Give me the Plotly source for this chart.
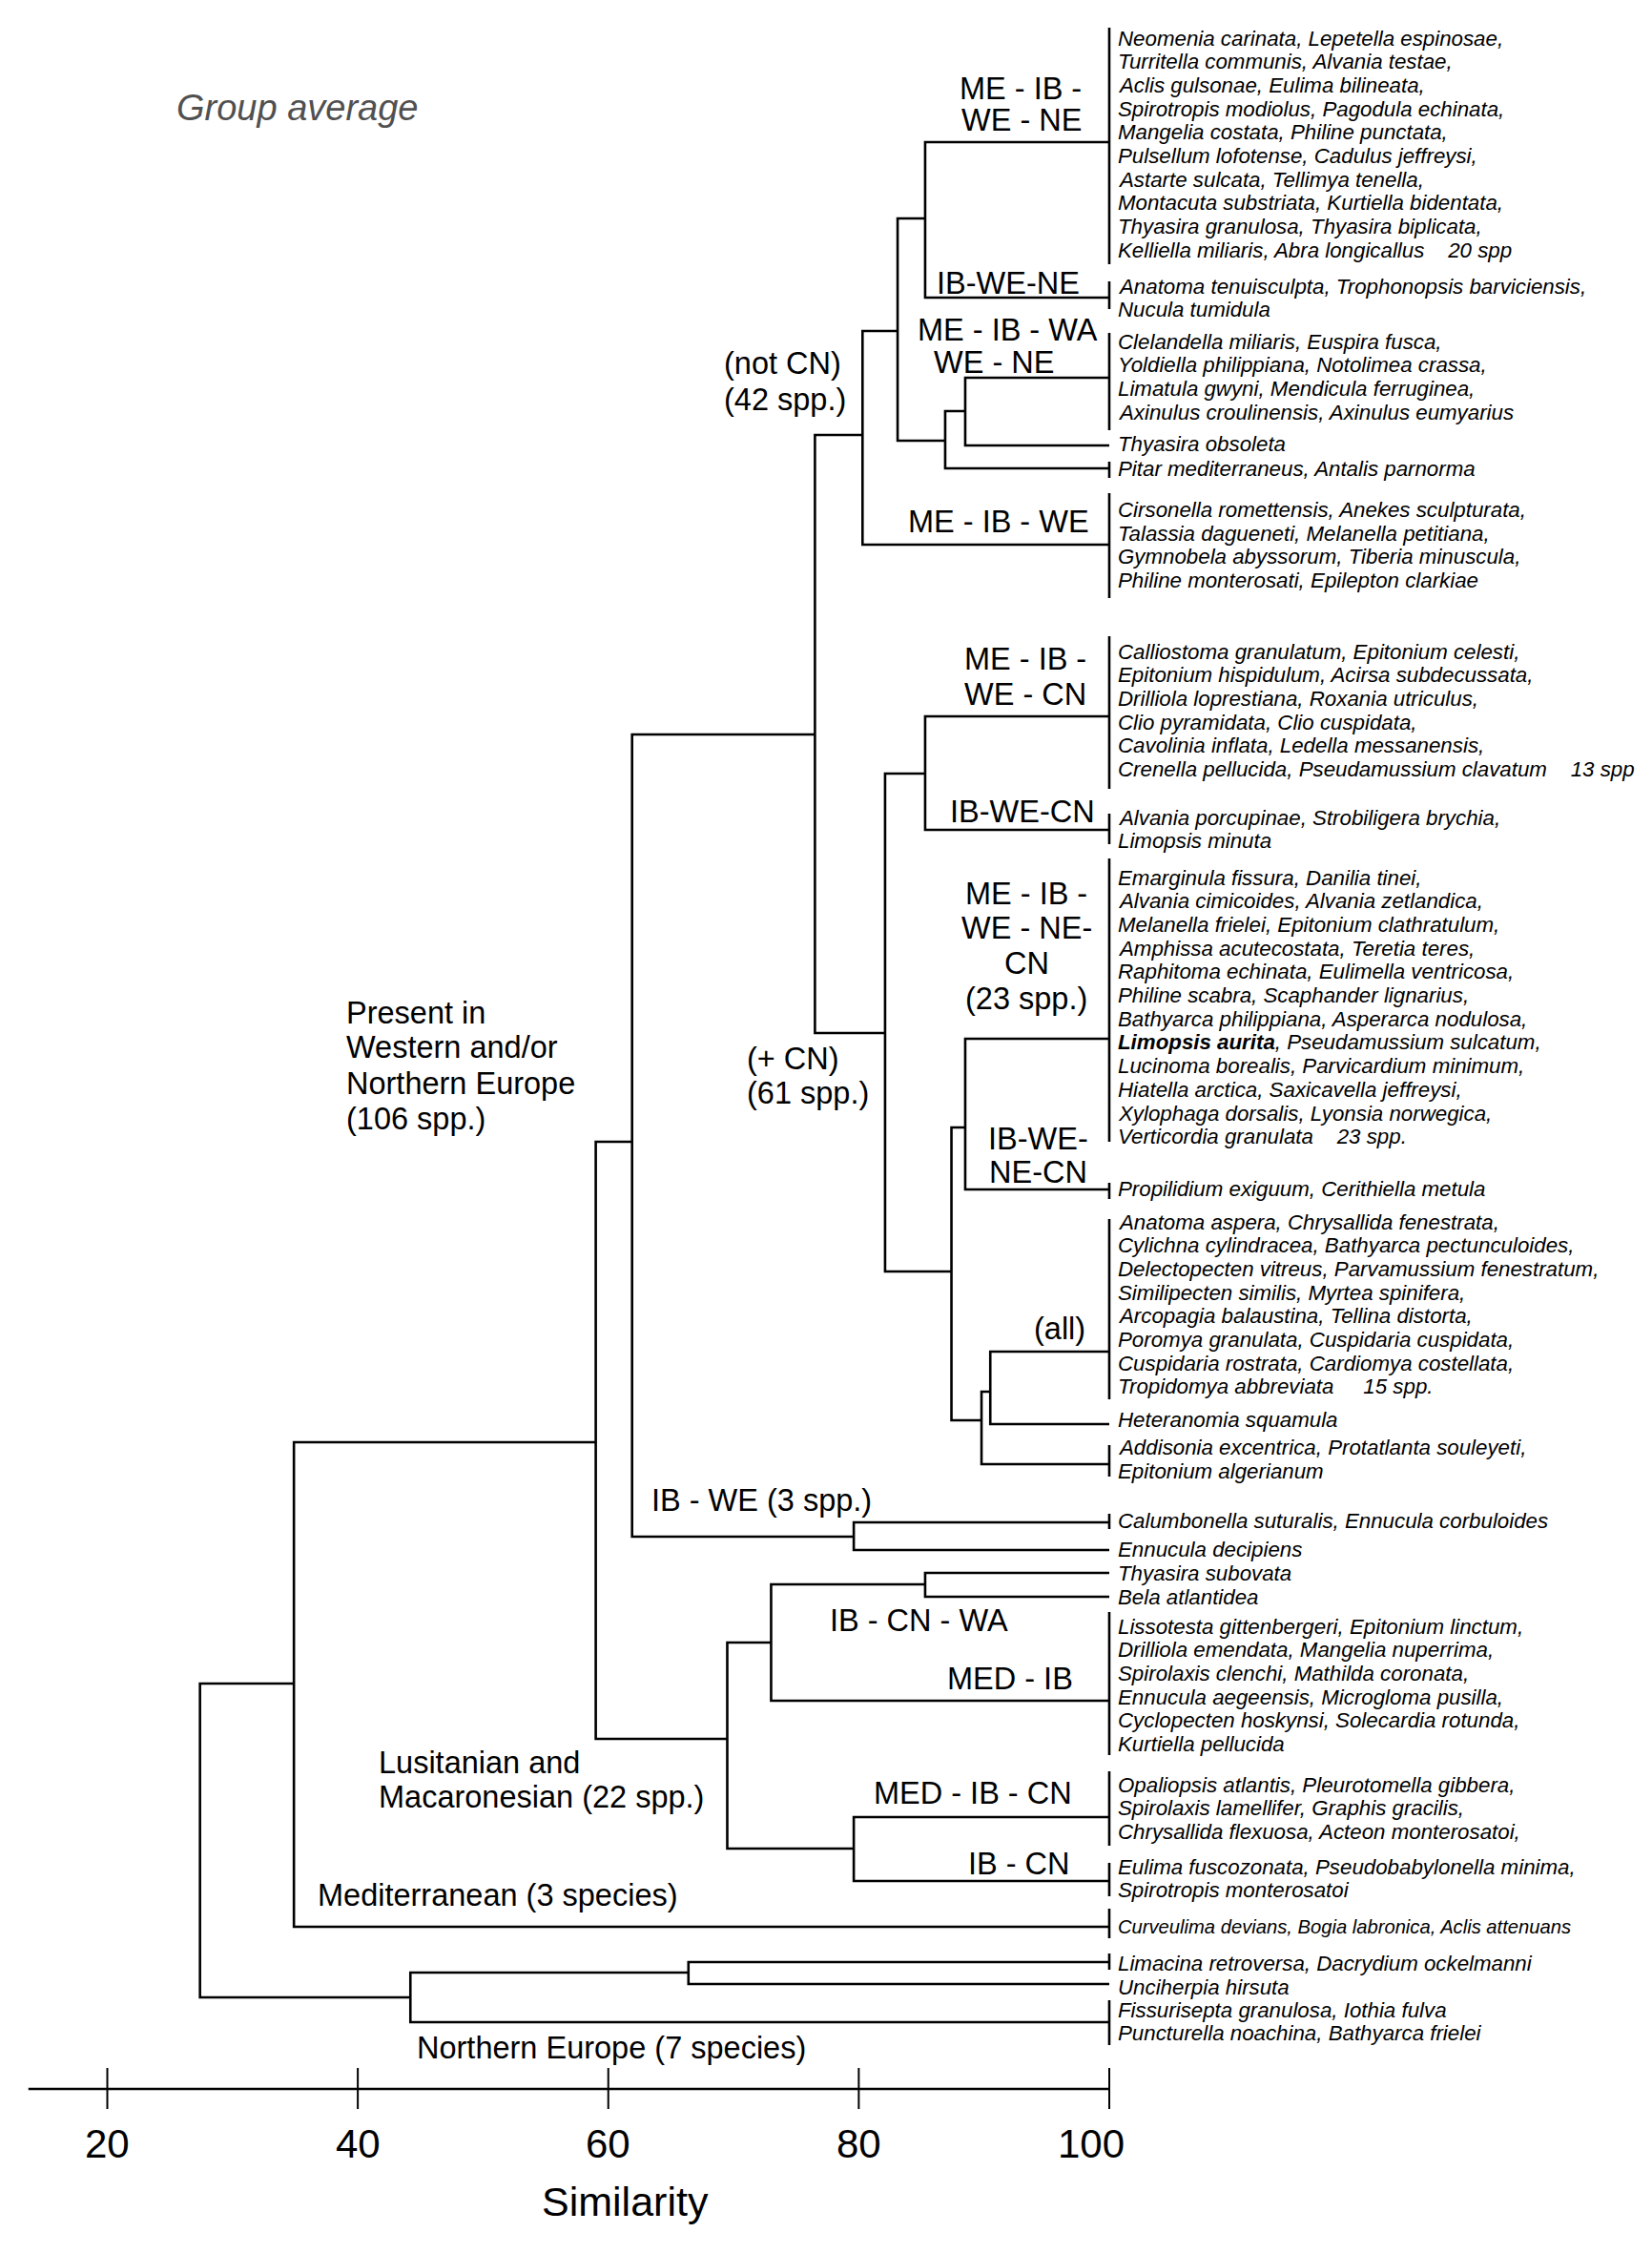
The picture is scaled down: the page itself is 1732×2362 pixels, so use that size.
import plotly.graph_objects as go

# ---------------- data ----------------
tick_values = [20, 40, 60, 80, 100]
tick_labels = ["20", "40", "60", "80", "100"]
axis_title = "Similarity"
axis_start_value = 13.7
chart_note = "Group average"

sp_01 = ["Neomenia carinata, Lepetella espinosae,", "Turritella communis, Alvania testae,",
         "Aclis gulsonae, Eulima bilineata,", "Spirotropis modiolus, Pagodula echinata,",
         "Mangelia costata, Philine punctata,", "Pulsellum lofotense, Cadulus jeffreysi,",
         "Astarte sulcata, Tellimya tenella,", "Montacuta substriata, Kurtiella bidentata,",
         "Thyasira granulosa, Thyasira biplicata,",
         "Kelliella miliaris, Abra longicallus\u00a0\u00a0\u00a0\u00a020 spp"]
sp_02 = ["Anatoma tenuisculpta, Trophonopsis barviciensis,", "Nucula tumidula"]
sp_03 = ["Clelandella miliaris, Euspira fusca,", "Yoldiella philippiana, Notolimea crassa,",
         "Limatula gwyni, Mendicula ferruginea,", "Axinulus croulinensis, Axinulus eumyarius"]
sp_04 = ["Thyasira obsoleta"]
sp_05 = ["Pitar mediterraneus, Antalis parnorma"]
sp_06 = ["Cirsonella romettensis, Anekes sculpturata,", "Talassia dagueneti, Melanella petitiana,",
         "Gymnobela abyssorum, Tiberia minuscula,", "Philine monterosati, Epilepton clarkiae"]
sp_07 = ["Calliostoma granulatum, Epitonium celesti,", "Epitonium hispidulum, Acirsa subdecussata,",
         "Drilliola loprestiana, Roxania utriculus,", "Clio pyramidata, Clio cuspidata,",
         "Cavolinia inflata, Ledella messanensis,",
         "Crenella pellucida, Pseudamussium clavatum\u00a0\u00a0\u00a0\u00a013 spp"]
sp_08 = ["Alvania porcupinae, Strobiligera brychia,", "Limopsis minuta"]
sp_09 = ["Emarginula fissura, Danilia tinei,", "Alvania cimicoides, Alvania zetlandica,",
         "Melanella frielei, Epitonium clathratulum,", "Amphissa acutecostata, Teretia teres,",
         "Raphitoma echinata, Eulimella ventricosa,", "Philine scabra, Scaphander lignarius,",
         "Bathyarca philippiana, Asperarca nodulosa,", "<b>Limopsis aurita</b>, Pseudamussium sulcatum,",
         "Lucinoma borealis, Parvicardium minimum,", "Hiatella arctica, Saxicavella jeffreysi,",
         "Xylophaga dorsalis, Lyonsia norwegica,", "Verticordia granulata\u00a0\u00a0\u00a0\u00a023 spp."]
sp_10 = ["Propilidium exiguum, Cerithiella metula"]
sp_11 = ["Anatoma aspera, Chrysallida fenestrata,", "Cylichna cylindracea, Bathyarca pectunculoides,",
         "Delectopecten vitreus, Parvamussium fenestratum,", "Similipecten similis, Myrtea spinifera,",
         "Arcopagia balaustina, Tellina distorta,", "Poromya granulata, Cuspidaria cuspidata,",
         "Cuspidaria rostrata, Cardiomya costellata,", "Tropidomya abbreviata\u00a0\u00a0\u00a0\u00a0\u00a015 spp."]
sp_12 = ["Heteranomia squamula"]
sp_13 = ["Addisonia excentrica, Protatlanta souleyeti,", "Epitonium algerianum"]
sp_14 = ["Calumbonella suturalis, Ennucula corbuloides"]
sp_15 = ["Ennucula decipiens"]
sp_16 = ["Thyasira subovata"]
sp_17 = ["Bela atlantidea"]
sp_18 = ["Lissotesta gittenbergeri, Epitonium linctum,", "Drilliola emendata, Mangelia nuperrima,",
         "Spirolaxis clenchi, Mathilda coronata,", "Ennucula aegeensis, Microgloma pusilla,",
         "Cyclopecten hoskynsi, Solecardia rotunda,", "Kurtiella pellucida"]
sp_19 = ["Opaliopsis atlantis, Pleurotomella gibbera,", "Spirolaxis lamellifer, Graphis gracilis,",
         "Chrysallida flexuosa, Acteon monterosatoi,"]
sp_20 = ["Eulima fuscozonata, Pseudobabylonella minima,", "Spirotropis monterosatoi"]
sp_21 = ["Curveulima devians, Bogia labronica, Aclis attenuans"]
sp_22 = ["Limacina retroversa, Dacrydium ockelmanni"]
sp_23 = ["Unciherpia hirsuta"]
sp_24 = ["Fissurisepta granulosa, Iothia fulva", "Puncturella noachina, Bathyarca frielei"]

leaf_names = ["L%02d" % i for i in range(1, 25)]
leaf_species = [sp_01, sp_02, sp_03, sp_04, sp_05, sp_06, sp_07, sp_08, sp_09, sp_10, sp_11, sp_12,
                sp_13, sp_14, sp_15, sp_16, sp_17, sp_18, sp_19, sp_20, sp_21, sp_22, sp_23, sp_24]
leaf_similarity = 100

# internal nodes of the dendrogram (similarity at which clusters join)
node_names = ["a", "b", "c", "d", "e", "f", "g", "h", "i", "j", "k", "l",
              "m", "n", "o", "p", "q", "r", "s", "t", "u", "v", "root"]
node_similarity = [85.3, 88.5, 86.9, 83.1, 80.3, 85.3, 88.5, 90.5, 89.8, 87.4, 82.1, 76.5,
                   79.6, 61.9, 85.3, 73.0, 79.6, 69.5, 59.0, 34.9, 66.4, 44.2, 27.4]
node_upper = ["L01", "L03", "b", "a", "d", "L07", "L09", "L11", "h", "g", "f", "e",
              "L14", "l", "L16", "o", "L19", "p", "n", "s", "L22", "u", "t"]
node_lower = ["L02", "L04", "L05", "c", "L06", "L08", "L10", "L12", "L13", "i", "j", "k",
              "L15", "m", "L17", "L18", "L20", "q", "r", "L21", "L23", "L24", "v"]

group_labels = ["ME - IB -", "WE - NE", "IB-WE-NE", "ME - IB - WA", "WE - NE", "(not CN)", "(42 spp.)",
                "ME - IB - WE", "ME - IB -", "WE - CN", "IB-WE-CN",
                "ME - IB -", "WE - NE-", "CN", "(23 spp.)", "IB-WE-", "NE-CN", "(all)",
                "Present in", "Western and/or", "Northern Europe", "(106 spp.)", "(+ CN)", "(61 spp.)",
                "IB - WE (3 spp.)", "IB - CN - WA", "MED - IB", "Lusitanian and", "Macaronesian (22 spp.)",
                "MED - IB - CN", "IB - CN", "Mediterranean (3 species)", "Northern Europe (7 species)"]

# ---------------- layout (pixel positions) ----------------
W, H = 1732, 2362
PX20, PX_PER_UNIT = 112.5, 13.131


def px2val(px):
    return 20 + (px - PX20) / PX_PER_UNIT


leaf_y = [149, 312, 396, 467, 491, 571, 751, 870, 1089, 1247, 1417, 1493, 1535, 1596, 1625,
          1649, 1674, 1783, 1905, 1972, 2020, 2057, 2080, 2120]
node_y = [229, 431, 462, 347, 456, 811, 1182, 1459, 1489, 1333, 1083, 770,
          1611, 1197, 1661, 1722, 1938, 1823, 1512, 1765, 2068, 2094, None]
leaf_bar = [(29, 277), (295, 324), (349, 451), None, (484, 501), (517, 627), (667, 827), (853, 885),
            (900, 1197), (1240, 1257), (1278, 1467), None, (1515, 1548), (1587, 1603), None, None,
            None, (1690, 1840), (1857, 1935), (1953, 1988), (2001, 2032), (2048, 2065), None, (2097, 2144)]
leaf_text_y0 = [40, 300, 358, 465, 491.5, 534.5, 683, 857, 920, 1246, 1281, 1488, 1517.5, 1594,
                1624, 1649, 1674, 1705, 1871, 1957, 2020, 2058, 2083, 2107]
leaf_text_size = [22.3] * 20 + [20.2] + [22.3] * 3
LINE_STEP = 24.7
label_pos = [(1136, 93, "right"), (1136, 126, "right"), (1134, 297, "right"), (1153, 346, "right"),
             (977, 380, "left"), (757, 381, "left"), (757, 419, "left"), (1144, 547, "right"),
             (1141, 691, "right"), (1141, 728, "right"), (1150, 851, "right"),
             (1076, 937, "center"), (1076, 973, "center"), (1076, 1010, "center"), (1076, 1047, "center"),
             (1088, 1194, "center"), (1088, 1229, "center"), (1140, 1393, "right"),
             (361, 1062, "left"), (361, 1098, "left"), (361, 1136, "left"), (361, 1173, "left"),
             (781, 1110, "left"), (781, 1146, "left"), (681, 1573, "left"), (868, 1699, "left"),
             (1127, 1760, "right"), (395, 1848, "left"), (395, 1884, "left"), (1126, 1880, "right"),
             (1124, 1954, "right"), (331, 1987, "left"), (435, 2147, "left")]
AXIS_Y, TICK_TOP, TICK_BOT = 2190, 2168, 2211
TICKLABEL_Y, TITLE_Y = 2247, 2308
tick_label_shift = [0, 0, 0, 0, -19]

FONT = "Liberation Sans, Arial, Helvetica, sans-serif"
INK = "#000000"

# ---------------- build geometry ----------------
pos = {}
for name, y in zip(leaf_names, leaf_y):
    pos[name] = (leaf_similarity, y)
for name, s, y in zip(node_names, node_similarity, node_y):
    pos[name] = (s, y)

tx, ty = [], []
for name, s, up, lo in zip(node_names, node_similarity, node_upper, node_lower):
    ux, uy = pos[up]
    lx, ly = pos[lo]
    tx += [ux, s, s, lx, None]
    ty += [uy, uy, ly, ly, None]

bx, by = [], []
for bar in leaf_bar:
    if bar:
        bx += [leaf_similarity, leaf_similarity, None]
        by += [bar[0], bar[1], None]

fig = go.Figure()
fig.add_trace(go.Scatter(x=tx, y=ty, mode="lines", line=dict(color=INK, width=2.6),
                         hoverinfo="skip", showlegend=False))
fig.add_trace(go.Scatter(x=bx, y=by, mode="lines", line=dict(color=INK, width=2.6),
                         hoverinfo="skip", showlegend=False))

# axis line and ticks
fig.add_trace(go.Scatter(x=[axis_start_value, tick_values[-1]], y=[AXIS_Y, AXIS_Y], mode="lines",
                         line=dict(color=INK, width=2.6), hoverinfo="skip", showlegend=False))
kx, ky = [], []
for t in tick_values:
    kx += [t, t, None]
    ky += [TICK_TOP, TICK_BOT, None]
fig.add_trace(go.Scatter(x=kx, y=ky, mode="lines", line=dict(color=INK, width=2),
                         hoverinfo="skip", showlegend=False))

ann = []
for t, lab, sh in zip(tick_values, tick_labels, tick_label_shift):
    ann.append(dict(x=t, y=TICKLABEL_Y, text=lab, showarrow=False, xanchor="center", yanchor="middle",
                    xshift=sh, font=dict(family=FONT, size=42, color=INK)))
ann.append(dict(x=px2val(655), y=TITLE_Y, text=axis_title, showarrow=False, xanchor="center",
                yanchor="middle", font=dict(family=FONT, size=43, color=INK)))
ann.append(dict(x=px2val(183), y=113, text=chart_note, showarrow=False, xanchor="left", yanchor="middle",
                font=dict(family=FONT, size=38, color="#505050", style="italic")))

for lines, y0, fs in zip(leaf_species, leaf_text_y0, leaf_text_size):
    for i, line in enumerate(lines):
        ann.append(dict(x=leaf_similarity, y=y0 + i * LINE_STEP, text=line, showarrow=False,
                        xanchor="left", yanchor="middle", xshift=7,
                        font=dict(family=FONT, size=fs, color=INK, style="italic")))

for text, (px, py, anc) in zip(group_labels, label_pos):
    ann.append(dict(x=px2val(px), y=py, text=text, showarrow=False, xanchor=anc, yanchor="middle",
                    font=dict(family=FONT, size=32.5, color=INK)))

fig.update_layout(
    width=W, height=H, margin=dict(l=0, r=0, t=0, b=0, pad=0),
    paper_bgcolor="white", plot_bgcolor="white",
    xaxis=dict(range=[px2val(0), px2val(W)], visible=False, fixedrange=True),
    yaxis=dict(range=[H, 0], visible=False, fixedrange=True),
    annotations=ann, showlegend=False,
)

fig.write_html("out.html", config={"displayModeBar": False},
               post_script="document.body.style.margin='0';")
